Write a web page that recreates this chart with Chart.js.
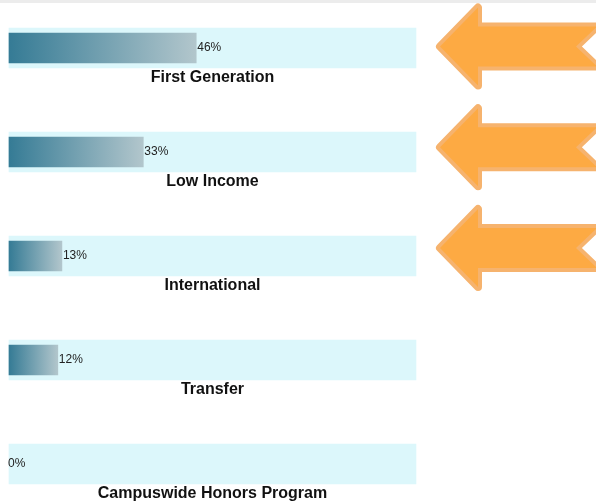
<!DOCTYPE html>
<html>
<head>
<meta charset="utf-8">
<script src="https://cdn.jsdelivr.net/npm/chart.js@4.4.1/dist/chart.umd.min.js"></script>
<style>
    html, body { margin: 0; padding: 0; background: #fff; }
    #wrap { position: relative; width: 596px; height: 501px; overflow: hidden; }
    #topStrip { position: absolute; left: 0; top: 0; width: 596px; height: 3px; background: #ececec; }
    #chartCanvas { position: absolute; left: 0; top: 0; }
</style>
</head>
<body>
<div id="wrap">
    <canvas id="chartCanvas" width="596" height="501"></canvas>
    <div id="topStrip"></div>
</div>
<script>
const categories = ['First Generation', 'Low Income', 'International', 'Transfer', 'Campuswide Honors Program'];
const percentValues = [46, 33, 13, 12, 0];
const trackValues = [100, 100, 100, 100, 100];
const highlighted = ['First Generation', 'Low Income', 'International'];

const BAR_DARK = '#357b95';
const BAR_LIGHT = '#b2c6cc';
const TRACK_COLOR = '#dcf7fb';
const ARROW_FILL = '#fdaa43';
const ARROW_EDGE = '#f6b36e';

// gradient runs across each bar, from its base to its own end
function barGradient(ctx) {
    const chart = ctx.chart;
    const xScale = chart.scales.x;
    if (ctx.dataIndex === undefined) return BAR_DARK;
    if (percentValues[ctx.dataIndex] === 0) return 'rgba(0,0,0,0)';
    if (!chart.chartArea || !xScale) return BAR_DARK;
    const x0 = xScale.getPixelForValue(0);
    const x1 = xScale.getPixelForValue(percentValues[ctx.dataIndex]);
    if (!isFinite(x0) || !isFinite(x1) || x1 - x0 < 1) return BAR_DARK;
    const g = chart.ctx.createLinearGradient(x0, 0, x1, 0);
    g.addColorStop(0, BAR_DARK);
    g.addColorStop(1, BAR_LIGHT);
    return g;
}

const labelPlugin = {
    id: 'barLabels',
    afterDatasetsDraw(chart) {
        const ctx = chart.ctx;
        const xScale = chart.scales.x;
        const yScale = chart.scales.y;
        const mid = (xScale.left + xScale.right) / 2;
        ctx.save();
        categories.forEach((name, i) => {
            const y = yScale.getPixelForValue(i);
            const v = percentValues[i];
            let x = xScale.getPixelForValue(v) + 1;
            if (v === 0) x = xScale.left - 1;
            ctx.font = '12px "Liberation Sans", Arial, sans-serif';
            ctx.fillStyle = '#222';
            ctx.textAlign = 'left';
            ctx.textBaseline = 'middle';
            ctx.fillText(v + '%', x, y);

            ctx.font = 'bold 16px "Liberation Sans", Arial, sans-serif';
            ctx.fillStyle = '#111';
            ctx.textAlign = 'center';
            ctx.fillText(name, mid, y + 29.5);
        });
        ctx.restore();
    }
};

// orange pointers next to the highlighted groups
const arrowPlugin = {
    id: 'arrows',
    afterDraw(chart) {
        const ctx = chart.ctx;
        const yScale = chart.scales.y;
        ctx.save();
        highlighted.forEach((name, k) => {
            const i = categories.indexOf(name);
            const cy = yScale.getPixelForValue(i) - 1.5 - k * 3.25;
            const tipX = 440, headX = 478, tailX = 597, notchX = 576;
            const headH = 39, shaftH = 20;
            ctx.beginPath();
            ctx.moveTo(tipX, cy);
            ctx.lineTo(headX, cy - headH);
            ctx.lineTo(headX, cy - shaftH);
            ctx.lineTo(tailX, cy - shaftH);
            ctx.lineTo(notchX, cy);
            ctx.lineTo(tailX, cy + shaftH);
            ctx.lineTo(headX, cy + shaftH);
            ctx.lineTo(headX, cy + headH);
            ctx.closePath();
            ctx.lineJoin = 'round';
            ctx.lineWidth = 8;
            ctx.strokeStyle = ARROW_EDGE;
            ctx.fillStyle = ARROW_FILL;
            ctx.stroke();
            ctx.fill();
        });
        ctx.restore();
    }
};

const canvas = document.getElementById('chartCanvas');
new Chart(canvas.getContext('2d'), {
    type: 'bar',
    data: {
        labels: categories,
        datasets: [
            {
                data: percentValues,
                backgroundColor: barGradient,
                borderWidth: 0,
                barThickness: 30,
                grouped: false,
                order: 0,
                clip: false
            },
            {
                data: trackValues,
                backgroundColor: TRACK_COLOR,
                borderWidth: 0,
                barThickness: 40,
                grouped: false,
                order: 1,
                clip: false
            }
        ]
    },
    options: {
        indexAxis: 'y',
        responsive: false,
        animation: false,
        layout: { padding: { left: 9, right: 180, top: 48, bottom: 37 } },
        plugins: {
            legend: { display: false },
            tooltip: { enabled: false },
            title: { display: false }
        },
        scales: {
            x: { display: false, min: 0, max: 100 },
            y: { display: false, offset: false }
        }
    },
    plugins: [labelPlugin, arrowPlugin]
});
</script>
</body>
</html>
